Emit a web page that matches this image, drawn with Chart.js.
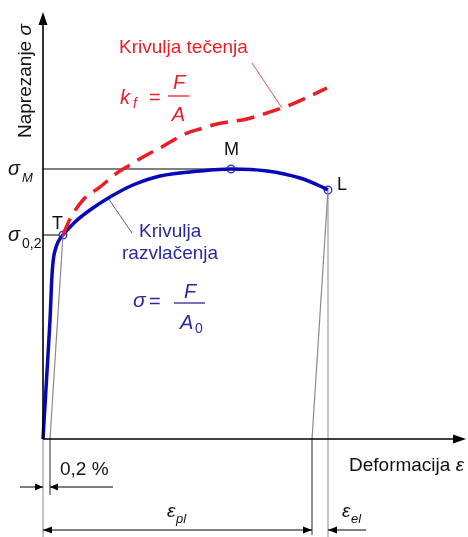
<!DOCTYPE html>
<html>
<head>
<meta charset="utf-8">
<script src="https://cdn.jsdelivr.net/npm/chart.js@4/dist/chart.umd.min.js"></script>
<style>
html,body{margin:0;padding:0;background:#fff;}
#wrap{width:468px;height:537px;}
</style>
</head>
<body>
<div id="wrap"><canvas id="c" width="468" height="537"></canvas></div>
<script>
// ---- data (arbitrary units: strain on x, stress on y) ----
const blueX = [0, 3.5, 7, 9, 10.5, 12.5, 15, 20, 32, 47, 67, 90, 117, 157, 188, 224, 257, 277, 285];
const blueY = [0, 59, 119, 164, 181, 190, 197, 204, 217, 229, 242, 254, 263, 268, 270, 268, 261, 253, 249];
const redX = [20, 27, 40, 57, 74, 87, 100, 117, 142, 157, 174, 204, 224, 247, 267, 284];
const redY = [204, 220, 239, 252, 266, 274, 282, 291, 305, 310, 315, 320, 326, 334, 343, 351];
const pointNames = ['T', 'M', 'L'];
const pointX = [20, 188, 285];
const pointY = [204, 270, 249];
const offsetLineX = [7, 20];      // 0,2 % offset elastic line
const offsetLineY = [0, 204];
const unloadLineX = [285, 269];   // elastic unloading from L
const unloadLineY = [249, 0];
const axisMaxX = 423, axisMaxY = 427;
const dimY1 = -48, dimY2 = -91;

const zip = (xs, ys) => xs.map((x, i) => ({x, y: ys[i]}));

const FONT = '"Liberation Sans", Arial, sans-serif';
const RED = '#ee1c24';
const BLUE = '#0808b8';
const BLUETXT = '#2a2a9c';

const overlay = {
  id: 'overlay',
  beforeDatasetsDraw(chart) {
    const ctx = chart.ctx, xs = chart.scales.x, ys = chart.scales.y;
    const X = v => xs.getPixelForValue(v), Y = v => ys.getPixelForValue(v);
    const line = (x1, y1, x2, y2, col, w) => {
      ctx.save(); ctx.strokeStyle = col; ctx.lineWidth = w;
      ctx.beginPath(); ctx.moveTo(X(x1), Y(y1)); ctx.lineTo(X(x2), Y(y2)); ctx.stroke(); ctx.restore();
    };
    // guide lines
    line(0, pointY[1], pointX[1], pointY[1], '#000', 1);
    line(0, pointY[0], pointX[0], pointY[0], '#000', 1);
    line(offsetLineX[0], 0, offsetLineX[0], -56, '#222', 1);
    line(unloadLineX[1], 0, unloadLineX[1], -96, '#222', 1);
    line(pointX[2], pointY[2], pointX[2], -98, '#8a8a8a', 1);
    line(0, 0, 0, -98, '#8a8a8a', 1);
    // leader lines
    line(65, 241, 89, 206, '#5a5a9a', 1);
    line(209, 376, 239, 331, '#e05050', 1);
  },
  afterDatasetsDraw(chart) {
    const ctx = chart.ctx, xs = chart.scales.x, ys = chart.scales.y;
    const X = v => xs.getPixelForValue(v), Y = v => ys.getPixelForValue(v);
    const line = (x1, y1, x2, y2, col, w) => {
      ctx.save(); ctx.strokeStyle = col; ctx.lineWidth = w;
      ctx.beginPath(); ctx.moveTo(X(x1), Y(y1)); ctx.lineTo(X(x2), Y(y2)); ctx.stroke(); ctx.restore();
    };
    const head = (x, y, dir, len, hw) => { // dir: 'r','l','u'
      const px = X(x), py = Y(y);
      ctx.save(); ctx.fillStyle = '#000'; ctx.beginPath();
      if (dir === 'r') { ctx.moveTo(px, py); ctx.lineTo(px - len, py - hw); ctx.lineTo(px - len, py + hw); }
      if (dir === 'l') { ctx.moveTo(px, py); ctx.lineTo(px + len, py - hw); ctx.lineTo(px + len, py + hw); }
      if (dir === 'u') { ctx.moveTo(px, py); ctx.lineTo(px - hw, py + len); ctx.lineTo(px + hw, py + len); }
      ctx.closePath(); ctx.fill(); ctx.restore();
    };
    const txt = (s, x, y, font, col, rot) => {
      ctx.save(); ctx.font = font; ctx.fillStyle = col; ctx.textBaseline = 'alphabetic'; ctx.textAlign = 'left';
      ctx.translate(X(x), Y(y)); if (rot) ctx.rotate(rot);
      ctx.fillText(s, 0, 0); const w = ctx.measureText(s).width; ctx.restore(); return w;
    };
    const txtC = (s, x, y, font, col) => {
      ctx.save(); ctx.font = font; ctx.fillStyle = col; ctx.textAlign = 'center'; ctx.textBaseline = 'alphabetic';
      ctx.fillText(s, X(x), Y(y)); ctx.restore();
    };
    // axes
    line(0, 0, 0, axisMaxY - 6, '#000', 1.6);
    head(0, axisMaxY, 'u', 13, 4.5);
    line(0, 0, axisMaxX - 6, 0, '#000', 1.6);
    head(axisMaxX, 0, 'r', 13, 4.5);
    // dimension 0,2 %
    line(-23, dimY1, 0, dimY1, '#000', 1);
    head(0, dimY1, 'r', 8, 3.5);
    line(70, dimY1, offsetLineX[0], dimY1, '#000', 1);
    head(offsetLineX[0], dimY1, 'l', 8, 3.5);
    // dimension eps_pl / eps_el
    line(0, dimY2, unloadLineX[1], dimY2, '#000', 1);
    head(0, dimY2, 'l', 9, 3.5);
    head(unloadLineX[1], dimY2, 'r', 9, 3.5);
    line(323, dimY2, pointX[2], dimY2, '#000', 1);
    head(pointX[2], dimY2, 'l', 9, 3.5);

    const N = '19px ' + FONT, I = 'italic 19px ' + FONT;
    // axis titles
    const w = txt('Deformacija ', 306, -32, N, '#111');
    txt('ε', xs.getValueForPixel(X(306) + w), -32, I, '#111');
    ctx.save(); ctx.font = N;
    const wN = ctx.measureText('Naprezanje ').width; ctx.restore();
    txt('Naprezanje ', -12, 301, N, '#111', -Math.PI / 2);
    txt('σ', -12, ys.getValueForPixel(Y(301) - wN), I, '#111', -Math.PI / 2);
    // stress labels
    txt('σ', -35, 264, 'italic 20px ' + FONT, '#111');
    txt('M', -21, 257, 'italic 13px ' + FONT, '#111');
    txt('σ', -35, 198, 'italic 20px ' + FONT, '#111');
    txt('0,2', -21, 191, '14px ' + FONT, '#111');
    // point names
    txt(pointNames[0], 9, 210, '18px ' + FONT, '#111');
    txt(pointNames[1], 181, 284, '18px ' + FONT, '#111');
    txt(pointNames[2], 294, 249, '18px ' + FONT, '#111');
    // dimension labels
    txt('0,2 %', 17, -36, N, '#111');
    txt('ε', 124, -78, I, '#111');
    txt('pl', 133, -84, 'italic 13px ' + FONT, '#111');
    txt('ε', 299, -78, I, '#111');
    txt('el', 308, -84, 'italic 13px ' + FONT, '#111');
    // red annotations
    txt('Krivulja tečenja', 76, 386, N, RED);
    txt('k', 77, 335, 'italic 20px ' + FONT, RED);
    txt('f', 90, 331, 'italic 14px ' + FONT, RED);
    txt('=', 106, 335, '20px ' + FONT, RED);
    line(125, 343, 146, 343, RED, 1.3);
    txtC('F', 136, 350, 'italic 20px ' + FONT, RED);
    txtC('A', 135.5, 318, 'italic 20px ' + FONT, RED);
    // blue annotations
    txt('Krivulja', 96, 202, N, BLUETXT);
    txt('razvlačenja', 79, 180, N, BLUETXT);
    txt('σ', 90, 132, 'italic 21px ' + FONT, BLUETXT);
    txt('=', 106, 131, '20px ' + FONT, BLUETXT);
    line(131, 136, 162, 136, BLUETXT, 1.3);
    txtC('F', 147, 141, 'italic 20px ' + FONT, BLUETXT);
    txt('A', 137, 110, 'italic 20px ' + FONT, BLUETXT);
    txt('0', 152, 106, '14px ' + FONT, BLUETXT);
  }
};

new Chart(document.getElementById('c'), {
  type: 'scatter',
  data: {
    datasets: [
      { data: zip(offsetLineX, offsetLineY), showLine: true, borderColor: '#8a8a8a', borderWidth: 1.2, pointRadius: 0 },
      { data: zip(unloadLineX, unloadLineY), showLine: true, borderColor: '#8a8a8a', borderWidth: 1.2, pointRadius: 0 },
      { data: zip(redX, redY), showLine: true, borderColor: RED, borderWidth: 3.5, borderDash: [18, 9],
        pointRadius: 0, cubicInterpolationMode: 'monotone' },
      { data: zip(blueX, blueY), showLine: true, borderColor: BLUE, borderWidth: 3.5,
        pointRadius: 0, cubicInterpolationMode: 'monotone' },
      { data: zip(pointX, pointY), showLine: false, pointRadius: 3.8, pointBorderWidth: 1.4,
        pointBackgroundColor: '#fff', pointBorderColor: '#3a3ad0' }
    ]
  },
  options: {
    responsive: false,
    animation: false,
    layout: { padding: 0, autoPadding: false },
    plugins: { legend: { display: false }, tooltip: { enabled: false } },
    events: [],
    scales: {
      x: { type: 'linear', min: -43, max: 425, display: false },
      y: { type: 'linear', min: -98, max: 439, display: false }
    },
    elements: { line: { borderCapStyle: 'butt' } }
  },
  plugins: [overlay]
});
</script>
</body>
</html>
